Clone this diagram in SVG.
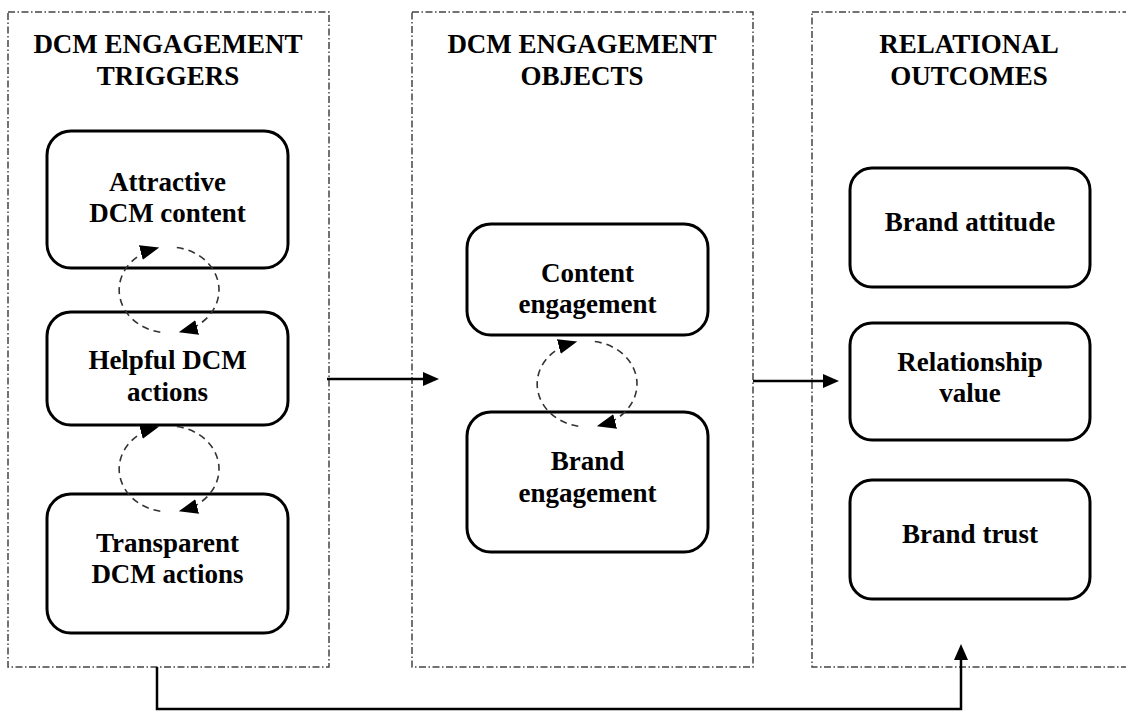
<svg xmlns="http://www.w3.org/2000/svg" width="1126" height="711" viewBox="0 0 1126 711">
  <style>
    .panel { fill: none; stroke: #444; stroke-width: 1.5; stroke-dasharray: 7 2.5 1.5 2.5; }
    .box { fill: #fff; stroke: #000; stroke-width: 3; }
    .head { font-family: "Liberation Serif", "Times New Roman", serif; font-weight: bold; font-size: 27px; fill: #000; text-anchor: middle; }
    .lbl { font-family: "Liberation Serif", "Times New Roman", serif; font-weight: bold; font-size: 27px; fill: #000; text-anchor: middle; }
    .flow { fill: none; stroke: #000; stroke-width: 2.5; }
    .loop { fill: none; stroke: #333; stroke-width: 1.6; stroke-dasharray: 7 5; }
  </style>
  <defs>
    <marker id="arrow" markerUnits="userSpaceOnUse" markerWidth="16" markerHeight="14" refX="12" refY="7" orient="auto">
      <path d="M0,0 L16,7 L0,14 z" fill="#000"/>
    </marker>
    <marker id="loopArrow" markerUnits="userSpaceOnUse" markerWidth="19" markerHeight="15" refX="14" refY="7.5" orient="auto">
      <path d="M0,0 L19,7.5 L0,15 z" fill="#000"/>
    </marker>
  </defs>

  <rect width="1126" height="711" fill="#fff"/>

  <!-- dash-dot panels -->
  <g id="panel-triggers">
    <rect class="panel" x="8" y="12" width="321" height="655"/>
    <text class="head" x="168" y="53">DCM ENGAGEMENT</text>
    <text class="head" x="168" y="85">TRIGGERS</text>
  </g>
  <g id="panel-objects">
    <rect class="panel" x="412" y="12" width="341" height="655"/>
    <text class="head" x="582" y="53">DCM ENGAGEMENT</text>
    <text class="head" x="582" y="85">OBJECTS</text>
  </g>
  <g id="panel-outcomes">
    <rect class="panel" x="812" y="12" width="330" height="655"/>
    <text class="head" x="969" y="53">RELATIONAL</text>
    <text class="head" x="969" y="85">OUTCOMES</text>
  </g>

  <!-- trigger nodes -->
  <g id="node-attractive">
    <rect class="box" x="47" y="131" width="241" height="137" rx="24"/>
    <text class="lbl" x="167.5" y="191">Attractive</text>
    <text class="lbl" x="167.5" y="222">DCM content</text>
  </g>
  <g id="node-helpful">
    <rect class="box" x="47" y="312" width="241" height="113" rx="24"/>
    <text class="lbl" x="167.5" y="369">Helpful DCM</text>
    <text class="lbl" x="167.5" y="401">actions</text>
  </g>
  <g id="node-transparent">
    <rect class="box" x="47" y="494" width="241" height="139" rx="24"/>
    <text class="lbl" x="167.5" y="552">Transparent</text>
    <text class="lbl" x="167.5" y="583">DCM actions</text>
  </g>

  <!-- object nodes -->
  <g id="node-content">
    <rect class="box" x="467" y="224" width="241" height="111" rx="24"/>
    <text class="lbl" x="587.5" y="282">Content</text>
    <text class="lbl" x="587.5" y="313">engagement</text>
  </g>
  <g id="node-brand-engagement">
    <rect class="box" x="467" y="412" width="241" height="140" rx="24"/>
    <text class="lbl" x="587.5" y="470">Brand</text>
    <text class="lbl" x="587.5" y="502">engagement</text>
  </g>

  <!-- outcome nodes -->
  <g id="node-attitude">
    <rect class="box" x="850" y="168" width="240" height="119" rx="22"/>
    <text class="lbl" x="970" y="231">Brand attitude</text>
  </g>
  <g id="node-value">
    <rect class="box" x="850" y="323" width="240" height="117" rx="22"/>
    <text class="lbl" x="970" y="371">Relationship</text>
    <text class="lbl" x="970" y="402">value</text>
  </g>
  <g id="node-trust">
    <rect class="box" x="850" y="480" width="240" height="119" rx="22"/>
    <text class="lbl" x="970" y="543">Brand trust</text>
  </g>

  <!-- connectors -->
  <g id="connectors">
    <!-- reciprocal loops between adjacent nodes -->
    <path class="loop" d="M160.3,332.3 A50,43 0 0 1 154.4,248.9" marker-end="url(#loopArrow)"/>
    <path class="loop" d="M176.8,247.5 A50,43 0 0 1 183.6,331.1" marker-end="url(#loopArrow)"/>

    <path class="loop" d="M160.3,511.3 A50,43 0 0 1 154.4,427.9" marker-end="url(#loopArrow)"/>
    <path class="loop" d="M176.8,426.5 A50,43 0 0 1 183.6,510.1" marker-end="url(#loopArrow)"/>

    <path class="loop" d="M578.3,426.3 A50,43 0 0 1 572.4,342.9" marker-end="url(#loopArrow)"/>
    <path class="loop" d="M594.8,341.5 A50,43 0 0 1 601.6,425.1" marker-end="url(#loopArrow)"/>

    <!-- panel-to-panel flows -->
    <line class="flow" x1="327" y1="379" x2="435" y2="379" marker-end="url(#arrow)"/>
    <line class="flow" x1="753" y1="381" x2="835" y2="381" marker-end="url(#arrow)"/>
    <path class="flow" d="M157,667 V709 H961 V648" marker-end="url(#arrow)"/>
  </g>
</svg>
